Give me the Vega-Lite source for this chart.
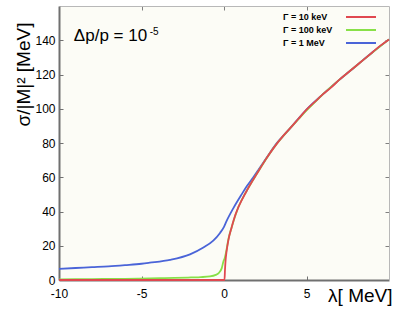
{
  "$schema": "https://vega.github.io/schema/vega-lite/v6.json",
  "width": 330,
  "height": 274,
  "autosize": "none",
  "padding": {"left": 59, "top": 6, "right": 5, "bottom": 33},
  "background": "#ffffff",
  "config": {
    "font": "Liberation Sans",
    "view": {"fill": "#fcfcf6", "stroke": null}
  },
  "datasets": {
    "curves": [
      {"g": "Γ = 1 MeV", "lambda": -10, "s": 6.5},
      {"g": "Γ = 1 MeV", "lambda": -9, "s": 7.0},
      {"g": "Γ = 1 MeV", "lambda": -8, "s": 7.5},
      {"g": "Γ = 1 MeV", "lambda": -7, "s": 8.0},
      {"g": "Γ = 1 MeV", "lambda": -6, "s": 8.7},
      {"g": "Γ = 1 MeV", "lambda": -5, "s": 9.5},
      {"g": "Γ = 1 MeV", "lambda": -4.5, "s": 10.1},
      {"g": "Γ = 1 MeV", "lambda": -3.27, "s": 11.8},
      {"g": "Γ = 1 MeV", "lambda": -2.06, "s": 15.0},
      {"g": "Γ = 1 MeV", "lambda": -1.25, "s": 19.0},
      {"g": "Γ = 1 MeV", "lambda": -0.65, "s": 23.0},
      {"g": "Γ = 1 MeV", "lambda": -0.24, "s": 27.5},
      {"g": "Γ = 1 MeV", "lambda": 0, "s": 31},
      {"g": "Γ = 1 MeV", "lambda": 0.16, "s": 34.5},
      {"g": "Γ = 1 MeV", "lambda": 0.57, "s": 42},
      {"g": "Γ = 1 MeV", "lambda": 1.07, "s": 50},
      {"g": "Γ = 1 MeV", "lambda": 1.4, "s": 55},
      {"g": "Γ = 1 MeV", "lambda": 1.78, "s": 60},
      {"g": "Γ = 1 MeV", "lambda": 2.1, "s": 64.5},
      {"g": "Γ = 1 MeV", "lambda": 2.38, "s": 68.5},
      {"g": "Γ = 1 MeV", "lambda": 2.8, "s": 74.5},
      {"g": "Γ = 1 MeV", "lambda": 3.2, "s": 80},
      {"g": "Γ = 1 MeV", "lambda": 3.6, "s": 84.3},
      {"g": "Γ = 1 MeV", "lambda": 4, "s": 88.5},
      {"g": "Γ = 1 MeV", "lambda": 5, "s": 99.5},
      {"g": "Γ = 1 MeV", "lambda": 6, "s": 108.5},
      {"g": "Γ = 1 MeV", "lambda": 7, "s": 117},
      {"g": "Γ = 1 MeV", "lambda": 8, "s": 125},
      {"g": "Γ = 1 MeV", "lambda": 9, "s": 133},
      {"g": "Γ = 1 MeV", "lambda": 10, "s": 140.5},

      {"g": "Γ = 100 keV", "lambda": -10, "s": 0.4},
      {"g": "Γ = 100 keV", "lambda": -8, "s": 0.55},
      {"g": "Γ = 100 keV", "lambda": -6, "s": 0.7},
      {"g": "Γ = 100 keV", "lambda": -4.5, "s": 1.0},
      {"g": "Γ = 100 keV", "lambda": -3, "s": 1.2},
      {"g": "Γ = 100 keV", "lambda": -2, "s": 1.5},
      {"g": "Γ = 100 keV", "lambda": -1.4, "s": 1.7},
      {"g": "Γ = 100 keV", "lambda": -0.85, "s": 2.1},
      {"g": "Γ = 100 keV", "lambda": -0.5, "s": 3.0},
      {"g": "Γ = 100 keV", "lambda": -0.34, "s": 3.9},
      {"g": "Γ = 100 keV", "lambda": -0.14, "s": 6.8},
      {"g": "Γ = 100 keV", "lambda": -0.04, "s": 10.7},
      {"g": "Γ = 100 keV", "lambda": 0.05, "s": 13},
      {"g": "Γ = 100 keV", "lambda": 0.1, "s": 15},
      {"g": "Γ = 100 keV", "lambda": 0.16, "s": 18},
      {"g": "Γ = 100 keV", "lambda": 0.26, "s": 23.5},
      {"g": "Γ = 100 keV", "lambda": 0.47, "s": 31},
      {"g": "Γ = 100 keV", "lambda": 0.87, "s": 42.5},
      {"g": "Γ = 100 keV", "lambda": 1.37, "s": 52},
      {"g": "Γ = 100 keV", "lambda": 2, "s": 62.2},
      {"g": "Γ = 100 keV", "lambda": 3, "s": 77},
      {"g": "Γ = 100 keV", "lambda": 4, "s": 88.5},
      {"g": "Γ = 100 keV", "lambda": 6, "s": 108.5},
      {"g": "Γ = 100 keV", "lambda": 8, "s": 125},
      {"g": "Γ = 100 keV", "lambda": 10, "s": 140.5},

      {"g": "Γ = 10 keV", "lambda": -10, "s": 0},
      {"g": "Γ = 10 keV", "lambda": -5, "s": 0},
      {"g": "Γ = 10 keV", "lambda": -1, "s": 0},
      {"g": "Γ = 10 keV", "lambda": 0.03, "s": 0},
      {"g": "Γ = 10 keV", "lambda": 0.06, "s": 6},
      {"g": "Γ = 10 keV", "lambda": 0.1, "s": 12},
      {"g": "Γ = 10 keV", "lambda": 0.16, "s": 17},
      {"g": "Γ = 10 keV", "lambda": 0.26, "s": 23},
      {"g": "Γ = 10 keV", "lambda": 0.47, "s": 31},
      {"g": "Γ = 10 keV", "lambda": 0.57, "s": 34.5},
      {"g": "Γ = 10 keV", "lambda": 0.87, "s": 42.5},
      {"g": "Γ = 10 keV", "lambda": 1.07, "s": 46.5},
      {"g": "Γ = 10 keV", "lambda": 1.37, "s": 52},
      {"g": "Γ = 10 keV", "lambda": 1.7, "s": 57.5},
      {"g": "Γ = 10 keV", "lambda": 2, "s": 62.2},
      {"g": "Γ = 10 keV", "lambda": 2.5, "s": 70},
      {"g": "Γ = 10 keV", "lambda": 3, "s": 77},
      {"g": "Γ = 10 keV", "lambda": 3.6, "s": 84.3},
      {"g": "Γ = 10 keV", "lambda": 4, "s": 88.5},
      {"g": "Γ = 10 keV", "lambda": 4.5, "s": 94},
      {"g": "Γ = 10 keV", "lambda": 5, "s": 99.5},
      {"g": "Γ = 10 keV", "lambda": 5.5, "s": 104},
      {"g": "Γ = 10 keV", "lambda": 6, "s": 108.5},
      {"g": "Γ = 10 keV", "lambda": 6.5, "s": 112.5},
      {"g": "Γ = 10 keV", "lambda": 7, "s": 117},
      {"g": "Γ = 10 keV", "lambda": 7.5, "s": 121},
      {"g": "Γ = 10 keV", "lambda": 8, "s": 125},
      {"g": "Γ = 10 keV", "lambda": 8.5, "s": 129},
      {"g": "Γ = 10 keV", "lambda": 9, "s": 133},
      {"g": "Γ = 10 keV", "lambda": 9.5, "s": 137},
      {"g": "Γ = 10 keV", "lambda": 10, "s": 140.5}
    ],
    "note": [
      {"lx": -9.1, "ly": 139.3, "t": "Δp/p = 10", "sx": -4.5, "sy": 142.8, "sup": "-5"}
    ]
  },
  "layer": [
    {
      "data": {"name": "curves"},
      "mark": {"type": "line", "strokeWidth": 1.8, "interpolate": "monotone"},
      "encoding": {
        "x": {
          "field": "lambda", "type": "quantitative",
          "scale": {"domain": [-10, 10], "nice": false, "zero": false},
          "axis": {
            "orient": "bottom", "values": [-10, -5, 0, 5], "grid": false,
            "labelExpr": "'' + datum.value", "labelFlush": false,
            "domainColor": "#707070", "domainWidth": 2,
            "tickColor": "#707070", "tickSize": -4, "tickWidth": 1,
            "labelFontSize": 12, "labelColor": "#000000", "labelPadding": 12,
            "labelBaseline": "top",
            "title": "λ[ MeV]", "titleFontSize": 19, "titleFontWeight": "normal",
            "titleColor": "#000000", "titleAnchor": "end", "titleAlign": "right",
            "titleX": 333, "titleY": 21, "titleBaseline": "alphabetic"
          }
        },
        "y": {
          "field": "s", "type": "quantitative",
          "scale": {"domain": [0, 160], "nice": false},
          "axis": {
            "orient": "left", "values": [0, 20, 40, 60, 80, 100, 120, 140], "grid": false,
            "labelFlush": false,
            "domainColor": "#707070", "domainWidth": 2,
            "tickColor": "#707070", "tickSize": -4, "tickWidth": 1,
            "labelFontSize": 12, "labelColor": "#000000", "labelPadding": 8,
            "title": "σ/|M|² [MeV]", "titleFontSize": 19, "titleFontWeight": "normal",
            "titleColor": "#000000", "titleAngle": -90, "titleAlign": "center",
            "titleX": -30, "titleY": 68, "titleBaseline": "alphabetic"
          }
        },
        "color": {
          "field": "g", "type": "nominal",
          "scale": {
            "domain": ["Γ = 10 keV", "Γ = 100 keV", "Γ = 1 MeV"],
            "range": ["#e04850", "#88e048", "#4a64d8"]
          },
          "legend": {
            "title": null, "orient": "none", "legendX": 296, "legendY": 5,
            "symbolType": "M-3,0H3", "symbolSize": 100, "symbolStrokeWidth": 2,
            "labelFontSize": 9, "labelFontWeight": "bold", "labelColor": "#000000",
            "labelFont": "Liberation Sans", "labelOffset": -84, "rowPadding": 2,
            "padding": 0
          }
        }
      }
    },
    {
      "data": {"name": "curves"},
      "mark": {"type": "point", "opacity": 0},
      "encoding": {
        "x": {
          "field": "lambda", "type": "quantitative",
          "axis": {
            "orient": "top", "values": [-5, 0, 5], "labels": false, "title": null,
            "grid": false, "domainColor": "#b8b8b8", "domainWidth": 1,
            "tickColor": "#808080", "tickSize": -4
          }
        },
        "y": {
          "field": "s", "type": "quantitative",
          "axis": {
            "orient": "right", "values": [20, 40, 60, 80, 100, 120, 140], "labels": false, "title": null,
            "grid": false, "domainColor": "#b8b8b8", "domainWidth": 1,
            "tickColor": "#808080", "tickSize": -4
          }
        }
      }
    },
    {
      "data": {"name": "note"},
      "mark": {"type": "text", "fontSize": 17, "align": "left", "baseline": "alphabetic", "color": "#000000"},
      "encoding": {
        "x": {"field": "lx", "type": "quantitative", "axis": null},
        "y": {"field": "ly", "type": "quantitative", "axis": null},
        "text": {"field": "t"}
      }
    },
    {
      "data": {"name": "note"},
      "mark": {"type": "text", "fontSize": 10, "align": "left", "baseline": "alphabetic", "color": "#000000"},
      "encoding": {
        "x": {"field": "sx", "type": "quantitative", "axis": null},
        "y": {"field": "sy", "type": "quantitative", "axis": null},
        "text": {"field": "sup"}
      }
    }
  ],
  "resolve": {"axis": {"x": "independent", "y": "independent"}}
}
